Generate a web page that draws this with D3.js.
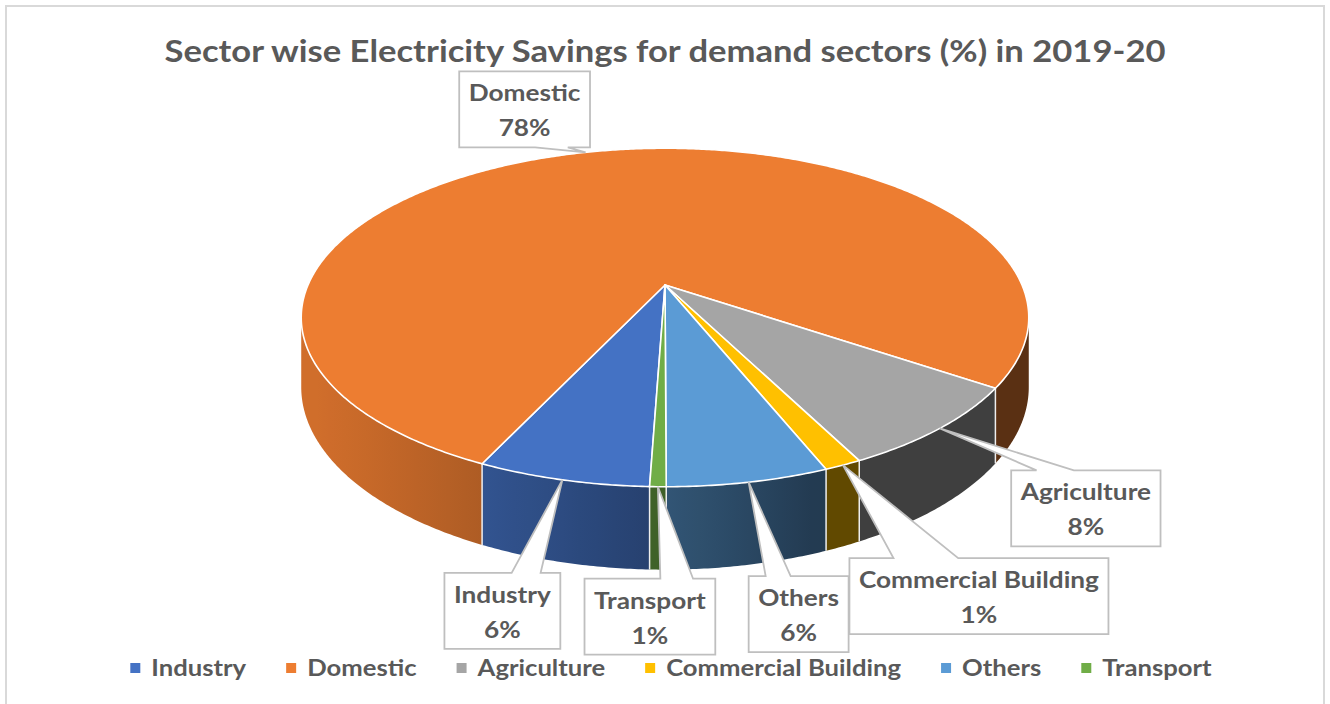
<!DOCTYPE html>
<html>
<head>
<meta charset="utf-8">
<script src="https://cdn.jsdelivr.net/npm/d3@7"></script>
<style>
  html, body { margin: 0; padding: 0; background: #fff; }
  svg { display: block; font-family: Lato, "Open Sans", sans-serif; }
</style>
</head>
<body>
<svg id="chart" width="1330" height="704"></svg>
<script>
// data (labels show rounded percents)
const categories = ["Industry", "Domestic", "Agriculture", "Commercial Building", "Others", "Transport"];
const shares = [6.4, 77.6, 8.0, 1.4, 6.0, 0.6];
const sliceColors = ["#4472C4", "#ED7D31", "#A5A5A5", "#FFC000", "#5B9BD5", "#70AD47"];
const chartTitle = "Sector wise Electricity Savings for demand sectors (%) in 2019-20";

const width = 1330, height = 704;
// 3d disc: centre, half axes, perspective, thickness
const cx = 665, cy = 285, A = 357, B = 163, K = 0.192, H = 67;
const startDeg = 182;
const textColor = "#595959";

// where each callout box sits relative to its tip
const calloutOffset = {
  "Industry": [-60, 131],
  "Domestic": [-61, -43],
  "Agriculture": [146, 80],
  "Commercial Building": [136, 131],
  "Others": [50, 132],
  "Transport": [-8, 130]
};

const data = categories.map((c, i) => ({ label: c, value: shares[i] }));
const color = d3.scaleOrdinal().domain(categories).range(sliceColors);

const svg = d3.select("#chart");
const defs = svg.append("defs");

// chart frame
svg.append("rect")
  .attr("x", 6).attr("y", 6)
  .attr("width", 1318).attr("height", 720)
  .attr("fill", "#fff")
  .attr("stroke", "#D9D9D9")
  .attr("stroke-width", 2);

function proj(a, r, drop) {
  const x = r * Math.sin(a), z = -r * Math.cos(a), w = 1 - K * z;
  return [cx + A * x / w, cy + (B * z + drop) / w];
}
function depth(a) { return -Math.cos(a); }

// light comes from front-left
function shade(c, a) {
  const f = 0.38 + 0.5 * Math.max(0, Math.cos(a - 250 * Math.PI / 180));
  const r = d3.rgb(c);
  return d3.rgb(r.r * f, r.g * f, r.b * f).formatHex();
}

const deg = Math.PI / 180;
const a0 = startDeg * deg;
const pie = d3.pie().sort(null).value(d => d.value)
  .startAngle(a0).endAngle(a0 + 2 * Math.PI);
const arcs = pie(data);

const line = d3.line();
const step = 0.5 * deg;

/* ------- SIDE WALLS ------- */
// the wall faces the viewer only between the two silhouette angles
const visLo = Math.acos(-K), visHi = 2 * Math.PI - Math.acos(-K);
const windows = [[visLo, visHi], [visLo + 2 * Math.PI, visHi + 2 * Math.PI]];
let runs = [];
arcs.forEach(function(d) {
  windows.forEach(function(win) {
    const s = Math.max(d.startAngle, win[0]), e = Math.min(d.endAngle, win[1]);
    if (e > s) runs.push({ d: d, s: s, e: e });
  });
});

const walls = svg.append("g").attr("class", "walls");
runs.forEach(function(r, i) {
  const n = Math.max(2, Math.ceil((r.e - r.s) / step));
  const top = [], bot = [];
  for (let j = 0; j <= n; j++) {
    const a = r.s + (r.e - r.s) * j / n;
    top.push(proj(a, 1, 0));
    bot.push(proj(a, 1, H));
  }
  const xs = proj(r.s, 1, 0)[0], xe = proj(r.e, 1, 0)[0];
  const grad = defs.append("linearGradient")
    .attr("id", "wall" + i)
    .attr("gradientUnits", "userSpaceOnUse")
    .attr("x1", xs).attr("x2", xe).attr("y1", 0).attr("y2", 0);
  const m = 10;
  for (let j = 0; j <= m; j++) {
    const a = r.s + (r.e - r.s) * j / m;
    const x = proj(a, 1, 0)[0];
    grad.append("stop")
      .attr("offset", Math.abs(xe - xs) < 0.01 ? j / m : (x - xs) / (xe - xs))
      .attr("stop-color", shade(color(r.d.data.label), a));
  }
  walls.append("path")
    .attr("d", line(top.concat(bot.reverse())) + "Z")
    .attr("fill", "url(#wall" + i + ")");
});

// slice edges on the wall
svg.append("g").attr("class", "edges")
  .selectAll("line")
  .data(arcs.filter(d => depth(d.startAngle) > K))
  .join("line")
  .attr("x1", d => proj(d.startAngle, 1, 0)[0])
  .attr("y1", d => proj(d.startAngle, 1, 0)[1])
  .attr("x2", d => proj(d.startAngle, 1, H)[0])
  .attr("y2", d => proj(d.startAngle, 1, H)[1])
  .attr("stroke", "#eeeeee")
  .attr("stroke-width", 1.5);

/* ------- TOP FACES ------- */
function topPath(d) {
  const pts = [[cx, cy]];
  const n = Math.max(2, Math.ceil((d.endAngle - d.startAngle) / step));
  for (let i = 0; i <= n; i++) {
    pts.push(proj(d.startAngle + (d.endAngle - d.startAngle) * i / n, 1, 0));
  }
  return line(pts) + "Z";
}

svg.append("g").attr("class", "slices")
  .selectAll("path")
  .data(arcs)
  .join("path")
  .attr("d", topPath)
  .attr("fill", d => color(d.data.label))
  .attr("stroke", "#fff")
  .attr("stroke-width", 1.6)
  .attr("stroke-linejoin", "round");

/* ------- TITLE ------- */
const titleText = svg.append("text")
  .attr("x", 665).attr("y", 62)
  .attr("text-anchor", "middle")
  .attr("font-size", 31)
  .attr("font-weight", 700)
  .attr("fill", textColor)
  .text(chartTitle);

// Lato is wider than the original font, squeeze everything by the same ratio
const squeeze = 1001 / titleText.node().getComputedTextLength();
function condense(sel) {
  sel.each(function() {
    const w = this.getComputedTextLength();
    d3.select(this).attr("textLength", w * squeeze).attr("lengthAdjust", "spacingAndGlyphs");
  });
}
condense(titleText);

/* ------- CALLOUTS ------- */
const callouts = svg.append("g").attr("class", "callouts");
arcs.forEach(function(d) {
  const mid = (d.startAngle + d.endAngle) / 2;
  const tip = proj(mid, 1, 0);
  const off = calloutOffset[d.data.label];
  const c = [tip[0] + off[0], tip[1] + off[1]];
  const g = callouts.append("g");
  const box = g.append("path");
  const t1 = g.append("text")
    .attr("x", c[0]).attr("y", c[1] - 8)
    .attr("text-anchor", "middle")
    .attr("font-size", 23.5).attr("font-weight", 700)
    .attr("fill", textColor)
    .text(d.data.label);
  const t2 = g.append("text")
    .attr("x", c[0]).attr("y", c[1] + 27)
    .attr("text-anchor", "middle")
    .attr("font-size", 23.5).attr("font-weight", 700)
    .attr("fill", textColor)
    .text(Math.round(d.data.value) + "%");
  const tw = Math.max(t1.node().getComputedTextLength(), t2.node().getComputedTextLength()) * squeeze;
  condense(t1); condense(t2);
  const bw = tw + 19, bh = 76;
  const x0 = c[0] - bw / 2, x1 = c[0] + bw / 2, y0 = c[1] - bh / 2, y1 = c[1] + bh / 2;
  const fr = tip[0] < c[0] ? [0.17, 0.42] : [0.58, 0.83];
  const b0 = x0 + bw * fr[0], b1 = x0 + bw * fr[1];
  let p;
  if (tip[1] < y0) {
    p = [[x0, y0], [b0, y0], tip, [b1, y0], [x1, y0], [x1, y1], [x0, y1]];
  } else {
    p = [[x0, y0], [x1, y0], [x1, y1], [b1, y1], tip, [b0, y1], [x0, y1]];
  }
  box.attr("d", line(p) + "Z")
    .attr("fill", "#fff")
    .attr("stroke", "#BFBFBF")
    .attr("stroke-width", 1.8)
    .attr("stroke-linejoin", "miter");
});

/* ------- LEGEND ------- */
const legend = svg.append("g").attr("class", "legend");
const items = categories.map(function(c) {
  const g = legend.append("g");
  g.append("rect").attr("width", 10).attr("height", 10).attr("y", 663).attr("fill", color(c));
  const t = g.append("text")
    .attr("y", 676)
    .attr("font-size", 23).attr("font-weight", 700)
    .attr("fill", textColor)
    .text(c);
  const w = t.node().getComputedTextLength() * squeeze;
  condense(t);
  return { g: g, t: t, w: w };
});
const total = d3.sum(items, d => 10 + 11 + d.w) + 40 * (items.length - 1);
let lx = 671 - total / 2;
items.forEach(function(d) {
  d.g.select("rect").attr("x", lx);
  d.t.attr("x", lx + 21);
  lx += 21 + d.w + 40;
});
</script>
</body>
</html>
